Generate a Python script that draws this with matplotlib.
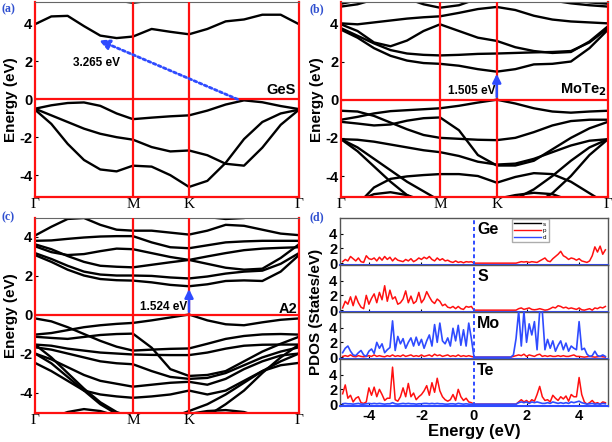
import numpy as np
import matplotlib
matplotlib.use('Agg')
import matplotlib.pyplot as plt
from matplotlib.lines import Line2D

plt.rcParams['font.family'] = ['Liberation Sans', 'DejaVu Sans']

# ---------------- band-structure data ----------------
k_labels = ['Γ', 'M', 'K', 'Γ']
k_ticks = [0.0, 0.585, 0.920, 1.577]
# 16 sampling columns: 6 steps Γ-M, 3 steps M-K, 6 steps K-Γ
k_cols = np.concatenate([np.linspace(k_ticks[0], k_ticks[1], 7),
                         np.linspace(k_ticks[1], k_ticks[2], 4)[1:],
                         np.linspace(k_ticks[2], k_ticks[3], 7)[1:]])

# (a) GeS
gesc1 = [3.95, 4.36, 4.39, 3.85, 3.35, 3.22, 3.30, 3.70, 3.55, 3.42, 3.70, 4.10, 4.20, 4.45, 4.45, 3.95]
gesc2 = [6.2, 6.1, 5.9, 5.7, 5.45, 5.2, 5.08, 5.2, 5.5, 5.7, 5.8, 5.9, 6.0, 6.0, 6.1, 6.2]
gesv1 = [-0.50, -0.32, -0.20, -0.17, -0.35, -0.75, -1.05, -0.97, -0.90, -0.85, -0.60, -0.28, -0.06, -0.16, -0.36, -0.52]
gesv2 = [-0.50, -0.85, -1.20, -1.55, -1.82, -2.00, -2.13, -2.52, -2.75, -2.70, -2.95, -3.40, -3.50, -2.55, -1.35, -0.55]
gesv3 = [-0.55, -1.30, -2.35, -3.20, -3.70, -3.80, -3.50, -3.55, -4.00, -4.62, -4.30, -3.35, -2.10, -1.20, -0.75, -0.55]
bands_a = [gesc1, gesc2, gesv1, gesv2, gesv3]

# (b) MoTe2
mtc1 = [3.67, 3.25, 2.70, 2.30, 2.05, 1.92, 1.88, 1.78, 1.60, 1.47, 1.60, 1.85, 1.88, 2.00, 2.70, 3.67]
mtc2 = [3.75, 3.35, 2.95, 2.60, 2.42, 2.35, 2.32, 2.35, 2.40, 2.42, 2.45, 2.48, 2.50, 2.55, 3.00, 3.75]
mtc3 = [3.95, 3.60, 3.00, 2.80, 3.10, 3.60, 3.95, 3.60, 3.25, 3.08, 2.75, 2.55, 2.45, 2.50, 3.05, 3.85]
mtc4 = [4.00, 3.95, 4.05, 4.15, 4.25, 4.32, 4.37, 4.55, 4.75, 4.86, 4.70, 4.40, 4.20, 4.10, 4.05, 4.00]
mtc5 = [4.88, 5.00, 5.25, 5.50, 5.30, 5.00, 4.82, 4.95, 5.30, 5.60, 5.60, 5.40, 5.20, 5.05, 4.95, 4.88]
mtc6 = [5.03, 5.20, 5.50, 5.80, 5.90, 5.80, 5.60, 5.60, 5.70, 5.80, 5.80, 5.70, 5.50, 5.25, 5.10, 5.03]
mtv1 = [-1.05, -0.90, -0.72, -0.60, -0.55, -0.50, -0.45, -0.32, -0.15, 0.00, -0.20, -0.45, -0.62, -0.68, -0.62, -0.58]
mtv2 = [-0.58, -0.62, -0.85, -1.20, -1.55, -1.85, -2.00, -2.05, -2.10, -2.12, -2.00, -1.70, -1.35, -1.12, -1.05, -1.05]
mtv3 = [-1.16, -1.25, -1.35, -1.30, -1.10, -0.97, -0.93, -1.60, -2.90, -3.45, -3.45, -3.20, -2.60, -2.00, -1.50, -1.16]
mtv4 = [-2.07, -2.10, -2.20, -2.35, -2.50, -2.65, -2.75, -2.95, -3.25, -3.40, -3.35, -3.10, -2.75, -2.40, -2.15, -2.07]
mtv5 = [-2.07, -2.50, -3.10, -3.70, -4.30, -4.80, -5.30, -5.60, -5.60, -5.50, -5.20, -4.70, -4.00, -3.20, -2.50, -2.07]
mtv6 = [-2.07, -2.70, -3.50, -4.30, -5.00, -5.50, -5.80, -5.90, -5.90, -5.90, -5.80, -5.50, -4.90, -4.00, -2.90, -2.07]
mtv7 = [-6.00, -5.50, -4.60, -4.15, -4.02, -3.95, -3.90, -3.90, -4.00, -4.35, -4.05, -3.85, -3.90, -4.30, -4.90, -5.50]
mtv8 = [-5.80, -5.30, -4.95, -4.85, -5.00, -5.30, -5.60, -5.70, -5.50, -5.20, -5.00, -4.88, -4.95, -5.30, -5.60, -5.80]
bands_b = [mtc1, mtc2, mtc3, mtc4, mtc5, mtc6, mtv1, mtv2, mtv3, mtv4, mtv5, mtv6, mtv7, mtv8]

# (c) A2 heterostructure
a2c1 = [3.05, 2.70, 2.30, 2.00, 1.82, 1.76, 1.74, 1.65, 1.52, 1.45, 1.55, 1.72, 1.75, 1.72, 2.20, 3.05]
a2c2 = [3.15, 2.85, 2.50, 2.20, 2.05, 2.00, 2.00, 1.98, 1.90, 1.85, 1.95, 2.10, 2.20, 2.25, 2.60, 3.15]
a2c3 = [3.60, 3.35, 3.00, 2.70, 2.50, 2.45, 2.42, 2.55, 2.68, 2.80, 2.98, 3.15, 3.30, 3.38, 3.42, 3.45]
a2c4 = [3.50, 3.20, 3.05, 3.10, 3.25, 3.38, 3.35, 3.15, 2.95, 2.80, 2.60, 2.40, 2.30, 2.35, 2.90, 3.60]
a2c5 = [3.78, 3.80, 3.88, 3.95, 4.00, 4.02, 4.02, 3.70, 3.45, 3.40, 3.55, 3.70, 3.75, 3.78, 3.78, 3.78]
a2c6 = [4.05, 4.50, 4.90, 4.95, 4.60, 4.35, 4.30, 4.30, 4.20, 4.10, 4.30, 4.60, 4.55, 4.35, 4.15, 4.07]
a2c7 = [5.60, 5.40, 5.20, 5.30, 5.30, 5.20, 5.00, 5.00, 5.30, 5.40, 5.00, 4.90, 4.95, 5.10, 5.40, 5.60]
a2v1 = [-1.03, -0.95, -0.80, -0.65, -0.55, -0.48, -0.43, -0.30, -0.15, 0.00, -0.30, -0.50, -0.55, -0.40, -0.27, -0.20]
a2v2 = [-0.20, -0.35, -0.65, -1.00, -1.35, -1.65, -1.85, -1.80, -1.76, -1.74, -1.50, -1.25, -1.10, -1.02, -1.00, -1.03]
a2v3 = [-1.14, -1.20, -1.25, -1.15, -1.05, -1.00, -0.98, -1.70, -2.80, -3.15, -3.10, -2.90, -2.40, -1.90, -1.50, -1.14]
a2v4 = [-1.54, -1.60, -1.75, -1.85, -1.95, -2.00, -2.05, -2.07, -2.08, -2.08, -1.95, -1.75, -1.60, -1.55, -1.54, -1.54]
a2v5 = [-1.68, -1.80, -2.00, -2.20, -2.40, -2.50, -2.55, -2.90, -3.20, -3.30, -3.25, -3.00, -2.60, -2.20, -1.90, -1.68]
a2v6 = [-2.00, -2.30, -2.70, -3.10, -3.40, -3.55, -3.70, -3.60, -3.50, -3.45, -3.60, -3.30, -2.80, -2.40, -2.10, -2.00]
a2v7 = [-2.48, -2.90, -3.40, -3.90, -4.10, -4.20, -4.27, -4.20, -4.10, -3.90, -4.10, -3.90, -3.40, -2.90, -2.60, -2.48]
a2v8 = [-2.00, -2.50, -3.20, -3.90, -4.60, -5.10, -5.50, -5.60, -5.30, -4.95, -4.60, -4.10, -3.50, -2.90, -2.40, -2.00]
a2v9 = [-1.54, -2.20, -3.00, -3.80, -4.50, -5.00, -5.30, -5.50, -5.60, -5.50, -5.20, -4.60, -3.90, -3.00, -2.20, -1.54]
a2v10 = [-5.80, -5.30, -5.00, -4.85, -4.95, -5.20, -5.50, -5.60, -5.40, -5.10, -4.95, -4.90, -5.00, -5.30, -5.60, -5.80]
bands_c = [a2c1, a2c2, a2c3, a2c4, a2c5, a2c6, a2c7,
           a2v1, a2v2, a2v3, a2v4, a2v5, a2v6, a2v7, a2v8, a2v9, a2v10]

gap_a, gap_b, gap_c = '3.265 eV', '1.505 eV', '1.524 eV'

# ---------------- PDOS data (energy grid -5..5 eV, 0.1 eV) ----------------
pdos_E = np.round(np.arange(-50, 51) * 0.1, 1)
ge_p = ([0.2, 0.5, 0.3, 0.9, 0.6, 0.3, 0.7, 0.2, 0.1, 1.0,
         0.6, 0.5, 0.7, 0.3, 0.8, 0.4, 0.9, 0.5, 0.8, 0.3,
         0.7, 0.4, 0.3, 0.2, 0.5, 0.3, 0.6, 0.2, 0.4, 0.7,
         0.5, 0.8, 0.6, 0.9, 0.5, 0.3, 0.7, 0.4, 0.6, 0.3,
         0.4, 0.2, 0.1, 0.3, 0.1, 0.2, 0.05, 0.2, 0.15, 0.2, 0.0] +
        [0, 0, 0, 0, 0, 0, 0, 0, 0, 0, 0, 0, 0, 0, 0, 0,
         0.1, 0.2, 0.15, 0.2, 0.1, 0.2, 0.15, 0.1, 0.3, 0.5,
         0.7, 0.3, 0.2, 0.6, 0.9, 1.2, 1.6, 1.0, 0.8, 0.5,
         0.7, 0.6, 0.4, 0.6, 0.3, 0.2, 0.1, 0.3, 1.0, 2.2,
         1.5, 2.3, 1.2, 1.8])
s_p = ([0.3, 1.2, 0.8, 1.8, 0.6, 1.9, 1.0, 0.4, 0.2, 2.0,
        0.8, 1.6, 2.2, 1.0, 2.4, 1.4, 3.3, 1.2, 2.7, 1.5,
        1.8, 0.8, 1.0, 1.5, 2.6, 1.0, 1.9, 0.9, 1.2, 2.4,
        1.0, 1.5, 2.5, 1.8, 1.2, 0.9, 1.5, 1.2, 0.6, 0.8,
        0.4, 0.3, 0.5, 0.2, 0.5, 0.2, 0.1, 0.5, 0.4, 0.5, 0.0] +
       [0, 0, 0, 0, 0, 0, 0, 0, 0, 0, 0, 0, 0, 0, 0, 0,
        0.2, 0.3, 0.1, 0.2, 0.3, 0.1, 0.05, 0.1, 0.2, 0.1,
        0.0, 0.05, 0.2, 0.4, 0.3, 0.6, 0.5, 0.3, 0.4, 0.2,
        0.3, 0.2, 0.1, 0.3, 0.05, 0.0, 0.1, 0.2, 0.0, 0.3,
        0.2, 0.4, 0.3, 0.5])
mo_d = ([0.6, 1.2, 1.5, 0.8, 0.3, 0.2, 0.6, 0.9, 0.3, 0.1,
         0.8, 1.1, 0.5, 2.0, 1.2, 1.8, 0.6, 1.0, 1.3, 4.9,
         0.9, 2.8, 1.8, 2.5, 1.2, 2.0, 2.6, 1.5, 2.7, 1.6,
         2.4, 1.2, 2.2, 3.0, 1.5, 4.4, 2.0, 4.6, 2.2, 1.8,
         2.6, 1.5, 3.9, 2.2, 4.3, 1.6, 3.7, 1.5, 4.6, 2.5, 0.0] +
        [0, 0, 0, 0, 0, 0, 0, 0, 0, 0, 0, 0, 0, 0,
         0.3, 2.5, 6.2, 1.5, 6.2, 2.0, 4.5, 3.0, 4.8, 1.0,
         6.2, 6.2, 1.0, 2.4, 1.2, 2.2, 0.8, 1.6, 2.2, 1.0,
         1.9, 0.8, 1.5, 1.2, 1.0, 4.8, 1.0, 1.2, 0.4, 0.1,
         0.2, 0.8, 0.2, 0.1, 0.3, 0.1])
mo_p = ([0.1, 0.2, 0.1, 0.3, 0.1, 0.05, 0.2, 0.1, 0.05, 0.1,
         0.2, 0.1, 0.3, 0.1, 0.2, 0.1, 0.05, 0.2, 0.1, 0.3,
         0.1, 0.2, 0.1, 0.3, 0.1, 0.2, 0.3, 0.1, 0.2, 0.1,
         0.3, 0.1, 0.2, 0.3, 0.1, 0.4, 0.2, 0.3, 0.1, 0.2,
         0.3, 0.1, 0.2, 0.1, 0.3, 0.1, 0.2, 0.1, 0.2, 0.1, 0.0] +
        [0, 0, 0, 0, 0, 0, 0, 0, 0, 0, 0, 0, 0, 0,
         0.1, 0.2, 0.3, 0.2, 0.4, 0.1, 0.3, 0.2, 0.1, 0.3,
         0.4, 0.1, 0.2, 0.1, 0.2, 0.1, 0.1, 0.2, 0.1, 0.2,
         0.1, 0.1, 0.2, 0.3, 0.1, 0.1, 0.05, 0.0, 0.05, 0.1,
         0.05, 0.0, 0.05, 0.1, 0.05, 0.0])
te_p = ([1.4, 2.6, 0.8, 1.2, 0.3, 0.8, 1.0, 0.2, 0.1, 0.3,
         2.2, 1.2, 2.3, 1.0, 2.0, 1.3, 0.5, 0.8, 0.8, 5.0,
         0.6, 0.4, 1.0, 2.2, 1.0, 2.8, 1.0, 1.5, 0.6, 1.0,
         1.3, 1.8, 2.5, 1.2, 2.9, 1.6, 3.5, 1.8, 1.0, 0.6,
         0.4, 0.6, 1.3, 0.5, 2.0, 1.0, 0.5, 0.8, 0.3, 0.2, 0.0] +
        [0, 0, 0, 0, 0, 0, 0, 0, 0, 0, 0, 0, 0, 0, 0, 0,
         0.3, 0.6, 0.3, 0.5, 0.2, 0.6, 0.4, 1.3, 2.4, 1.0,
         0.5, 0.6, 0.3, 1.2, 0.8, 0.5, 1.0, 0.7, 1.1, 0.4,
         1.3, 1.0, 1.0, 3.6, 1.3, 0.3, 0.0, 0.2, 0.5, 0.1,
         0.2, 0.0, 0.3, 0.2])
te_d = ([0.05, 0.1, 0.05, 0.05, 0.0, 0.05, 0.1, 0.0, 0.0, 0.05,
         0.1, 0.05, 0.1, 0.05, 0.1, 0.05, 0.0, 0.05, 0.05, 0.2,
         0.05, 0.0, 0.05, 0.1, 0.05, 0.1, 0.05, 0.05, 0.0, 0.05,
         0.05, 0.1, 0.1, 0.05, 0.1, 0.05, 0.1, 0.05, 0.05, 0.0,
         0.0, 0.05, 0.05, 0.0, 0.1, 0.05, 0.0, 0.05, 0.0, 0.0, 0.0] +
        [0, 0, 0, 0, 0, 0, 0, 0, 0, 0, 0, 0, 0, 0, 0, 0,
         0.2, 0.3, 0.2, 0.3, 0.1, 0.3, 0.2, 0.3, 0.2, 0.1,
         0.1, 0.2, 0.1, 0.3, 0.2, 0.1, 0.2, 0.1, 0.2, 0.1,
         0.3, 0.2, 0.3, 0.4, 0.2, 0.1, 0.0, 0.05, 0.1, 0.0,
         0.05, 0.0, 0.1, 0.05])
elements = ['Ge', 'S', 'Mo', 'Te']
p_curves = [ge_p, s_p, mo_p, te_p]
d_curves = [None, None, mo_d, te_d]
orbitals = ['s', 'p', 'd']

# ---------------- styling ----------------
RED = '#ff1010'
BLUE = '#2f4bff'
PANEL_BLUE = '#3050d0'
W, H = 612, 442
fig = plt.figure(figsize=(W / 100, H / 100), dpi=100)


def add_ax(l, t, r, b):
    return fig.add_axes([l / W, 1 - b / H, (r - l) / W, (b - t) / H])


def band_panel(ax, bands, ylim):
    for e in bands:
        ax.plot(k_cols, e, color='black', lw=1.7, solid_joinstyle='round', zorder=2)
    ax.set_xlim(k_ticks[0], k_ticks[-1])
    ax.set_ylim(*ylim)
    for kk in k_ticks[1:-1]:
        ax.axvline(kk, color=RED, lw=1.6, zorder=3)
    ax.axhline(0, color=RED, lw=1.6, zorder=3)
    ax.set_xticks(k_ticks)
    ax.set_xticklabels(k_labels, family=['Liberation Serif', 'DejaVu Serif'], fontsize=11)
    ax.set_yticks([-4, -2, 0, 2, 4])
    ax.set_yticklabels(['-4', '-2', '0', '2', '4'], fontweight='bold', fontsize=10.5)
    ax.tick_params(axis='both', direction='in', length=2.5, pad=2, width=0.8)
    ax.tick_params(axis='x', length=0, pad=1)
    for side in ['left', 'right', 'bottom']:
        ax.spines[side].set_color(RED)
        ax.spines[side].set_linewidth(1.6)
    ax.spines['top'].set_color('#666666')
    ax.set_ylabel('Energy (eV)', fontweight='bold', fontsize=11, labelpad=1)


axa = add_ax(35, 2, 299, 197)
band_panel(axa, bands_a, (-5.15, 5.12))
axa.annotate('', xy=(0.368, 3.16), xytext=(1.225, -0.06),
             arrowprops=dict(arrowstyle='-|>,head_length=0.6,head_width=0.3',
                             color=BLUE, lw=2, linestyle=(0, (1, 1))), zorder=5)
axa.text(0.368, 1.9, gap_a, ha='center', va='center', fontweight='bold', fontsize=8.5)
axa.text(1.56, 0.5, 'GeS', ha='right', va='center', fontweight='bold', fontsize=10.5)

axb = add_ax(341, 2, 608, 197)
band_panel(axb, bands_b, (-5.1, 5.12))
axb.annotate('', xy=(k_ticks[2], 1.5), xytext=(k_ticks[2], 0.0),
             arrowprops=dict(arrowstyle='-|>,head_length=0.5,head_width=0.25',
                             color=BLUE, lw=1.8), zorder=5)
axb.text(k_ticks[2] - 0.01, 0.44, gap_b, ha='right', va='center', fontweight='bold', fontsize=8.5)
axb.text(1.565, 0.52, 'MoTe$_\\mathbf{2}$', ha='right', va='center', fontweight='bold', fontsize=10.5)

axc = add_ax(35, 218, 299, 413)
band_panel(axc, bands_c, (-5.05, 4.95))
axc.annotate('', xy=(k_ticks[2], 1.45), xytext=(k_ticks[2], 0.0),
             arrowprops=dict(arrowstyle='-|>,head_length=0.5,head_width=0.25',
                             color=BLUE, lw=1.8), zorder=5)
axc.text(k_ticks[2] - 0.01, 0.41, gap_c, ha='right', va='center', fontweight='bold', fontsize=8.5)
axc.text(1.565, 0.3, 'A2', ha='right', va='center', fontweight='bold', fontsize=10.5)

# PDOS panels
top, bot = 218, 406
hh = (bot - top) / 4
d_axes = []
for i, el in enumerate(elements):
    ax = add_ax(340, top + hh * i, 608, top + hh * (i + 1))
    d_axes.append(ax)
    ax.plot(pdos_E, p_curves[i], color=RED, lw=1.1, zorder=2)
    if d_curves[i] is not None:
        ax.plot(pdos_E, d_curves[i], color=BLUE, lw=1.2, zorder=3)
    ax.axvline(0, color=BLUE, lw=1.4, linestyle=(0, (2, 1.5)), zorder=4)
    ax.set_xlim(-5.1, 5.1)
    ax.set_ylim(-0.25, 6.1)
    ax.set_yticks([0, 2, 4])
    ax.set_yticklabels(['0', '2', '4'], fontweight='bold', fontsize=10.5)
    ax.set_xticks([-4, -2, 0, 2, 4])
    ax.tick_params(axis='both', direction='in', length=2.5, pad=2, width=0.8)
    for side in ['left', 'right', 'top']:
        ax.spines[side].set_color('#555555')
        ax.spines[side].set_linewidth(1.0)
    ax.spines['bottom'].set_color(BLUE)
    ax.spines['bottom'].set_linewidth(1.5)
    if i < 3:
        ax.set_xticklabels([])
    else:
        ax.set_xticklabels(['-4', '-2', '0', '2', '4'], fontweight='bold', fontsize=10.5)
        ax.set_xlabel('Energy (eV)', fontweight='bold', fontsize=12, labelpad=1)
    ax.text(0.12, 4.6, el, ha='left', va='center', fontweight='bold', fontsize=11.5)

handles = [Line2D([], [], color=c, lw=1) for c in ['black', RED, BLUE]]
leg = d_axes[0].legend(handles, orbitals, loc='upper left', bbox_to_anchor=(0.63, 1.05),
                       fontsize=4.5, handlelength=4.2, handletextpad=0.3, labelspacing=0.2,
                       borderpad=0.4, frameon=True, fancybox=False, edgecolor='#999999')
leg.set_zorder(6)
fig.text(316 / W, 1 - 312 / H, 'PDOS (States/eV)', rotation=90, ha='center', va='center',
         fontweight='bold', fontsize=11)

# panel labels
for lab, (x, y) in zip(['(a)', '(b)', '(c)', '(d)'], [(2, 9), (309, 9), (2, 217), (309, 217)]):
    fig.text(x / W, 1 - y / H, lab, color=PANEL_BLUE, fontweight='bold', fontsize=8.5,
             family=['Liberation Serif', 'DejaVu Serif'], ha='left', va='center')

fig.savefig('out.png', dpi=100)
